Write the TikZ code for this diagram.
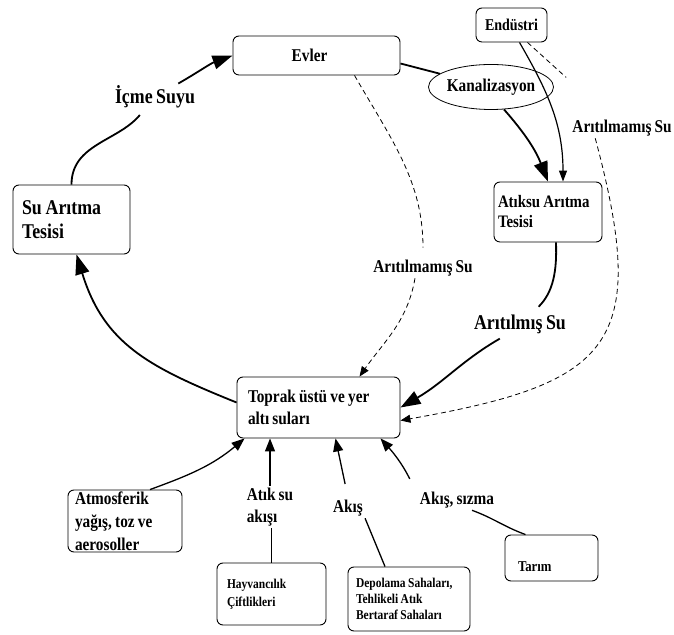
\documentclass[tikz,border=0pt]{standalone}
\usepackage{fontspec}
\setmainfont{Liberation Serif}[FakeStretch=0.85,WordSpace=0.8]
\usetikzlibrary{arrows.meta,shapes.geometric,positioning}

\newcommand\fsbig{\fontsize{21}{24}\selectfont\bfseries}
\newcommand\fsmain{\fontsize{18}{22}\selectfont\bfseries}
\newcommand\fsmid{\fontsize{16.5}{20}\selectfont\bfseries}
\newcommand\fstarim{\fontsize{15}{18}\selectfont\bfseries}
\newcommand\fssmall{\fontsize{13.5}{16}\selectfont\bfseries}

\begin{document}
\begin{tikzpicture}[x=1pt,y=1pt,
  box/.style={draw, rounded corners=6pt, line width=0.9pt, align=left,
    execute at begin node={\spaceskip=0.18em plus 0.1em\relax}},
  lbl/.style={inner sep=2pt, align=left},
  mainline/.style={line width=1.8pt},
  mainflow/.style={line width=1.8pt, -{Triangle[length=20pt,width=14pt]}},
  thinflow/.style={line width=1.2pt, -{Triangle[length=11pt,width=8pt]}},
  upline/.style={line width=1.3pt},
  upflow/.style={line width=1.3pt, -{Triangle[length=13pt,width=10pt]}},
  dashline/.style={line width=0.8pt, dash pattern=on 5pt off 3.5pt},
  dashflow/.style={dashline, -{Triangle[length=10pt,width=8pt]}}]

\useasboundingbox (0,0) rectangle (674,634);

\node[box, minimum width=167pt, minimum height=39pt, font=\fsmain] (evler) at (316.5,578.5) {Evler\hspace*{14pt}};
\node[box, minimum width=71pt, minimum height=34pt, font=\fsmid] (endustri) at (511.5,609) {Endüstri};
\node[draw, ellipse, line width=0.8pt, minimum width=125pt, minimum height=45pt, inner sep=0pt, font=\fsmain] (kanal) at (491,547) {Kanalizasyon};
\node[box, text width=99pt, inner xsep=9pt, minimum height=69pt, font=\fsbig] (suaritma) at (71.5,414.5) {Su Arıtma\\Tesisi};
\node[box, text width=100pt, inner xsep=4pt, minimum height=60pt, font=\fontsize{17.5}{20}\selectfont\bfseries] (atiksu) at (548,422) {Atıksu Arıtma\\Tesisi};
\node[box, text width=141pt, inner xsep=11pt, minimum height=61pt, font=\fsmain] (toprak) at (318.5,226.5) {Toprak üstü ve yer\\altı suları};
\node[box, text width=100pt, inner xsep=7pt, inner ysep=1pt, minimum height=62pt, font=\fontsize{18}{23}\selectfont\bfseries] (atmos) at (125,113) {Atmosferik\\yağış, toz ve\\aerosoller};
\node[box, text width=89pt, inner xsep=10pt, minimum height=62pt, font=\fontsize{13.5}{18}\selectfont\bfseries] (hayvan) at (271.5,40) {Hayvancılık\\Çiftlikleri};
\node[box, text width=106pt, inner xsep=8pt, minimum height=64pt, font=\fssmall] (depolama) at (409,35) {Depolama Sahaları,\\Tehlikeli Atık\\Bertaraf Sahaları};
\node[box, text width=67pt, inner xsep=13pt, inner ysep=3pt, text height=32pt, text depth=4pt, minimum height=46pt, font=\fstarim] (tarim) at (551.5,76) {Tarım};

\node[lbl, font=\fsbig] (icme) at (155,537) {İçme Suyu};
\node[lbl, font=\fsmain] (aritilmamisa) at (622,506) {Arıtılmamış Su};
\node[lbl, font=\fsmain] (aritilmamisb) at (423,366) {Arıtılmamış Su};
\node[lbl, font=\fsbig] (aritilmis) at (520,310) {Arıtılmış Su};
\node[lbl, font=\fsmain] (atiksuakisi) at (270,127) {Atık su\\akışı};
\node[lbl, font=\fsmain] (akis) at (348,126) {Akış};
\node[lbl, font=\fsmain] (akissizma) at (457,134) {Akış, sızma};

\draw[mainline, shorten >=6pt] (suaritma.north) to[out=90,in=-130] (icme);
\draw[mainflow] (icme) to[out=30,in=200] (evler.west);
\draw[mainflow] ([yshift=5pt]toprak.west) to[out=158,in=-73,looseness=1.1] ([xshift=5pt]suaritma.south);
\draw[mainline] ([yshift=-8pt]evler.east) -- (kanal);
\draw[mainflow] (kanal.-60) to[bend left=10] (atiksu.north);
\draw[thinflow] ([xshift=8pt]endustri.south) to[out=-60,in=90] ([xshift=15pt]atiksu.north);
\draw[dashline, shorten >=60pt] ([xshift=16pt]endustri.south) -- (aritilmamisa);
\draw[dashflow] ([xshift=25pt]aritilmamisa.south west) to[out=-75,in=10,looseness=1.6] ([yshift=-13pt]toprak.east);
\draw[dashline, shorten >=10pt] ([xshift=38pt]evler.south) to[out=-60,in=90] (aritilmamisb.north);
\draw[dashflow] ([xshift=-8pt]aritilmamisb.south) to[out=-100,in=55] ([xshift=41pt]toprak.north);
\draw[mainline, shorten >=8pt] ([xshift=8pt]atiksu.south) to[out=-88,in=45] ([xshift=13pt]aritilmis.north);
\draw[mainflow, shorten <=6pt] ([xshift=-15pt]aritilmis.south) to[out=210,in=30] (toprak.east);
\draw[upflow] ([xshift=25pt]atmos.north) to[out=20,in=-140] ([xshift=8pt]toprak.south west);
\draw[upline] (hayvan.north) -- (hayvan.north |- atiksuakisi.south);
\draw[upflow] (atiksuakisi.north) -- (atiksuakisi.north |- toprak.south);
\draw[upline] ([xshift=-24pt]depolama.north) -- (akis.south east);
\draw[upflow, shorten <=14pt] (akis.north) -- ([xshift=17pt]toprak.south);
\draw[upline] ([xshift=-26pt]tarim.north) to[out=160,in=-20] ([xshift=15pt]akissizma.south);
\draw[upflow, shorten <=12pt] ([xshift=-42pt]akissizma.north) to[bend right=8] ([xshift=62pt]toprak.south);
\end{tikzpicture}
\end{document}
